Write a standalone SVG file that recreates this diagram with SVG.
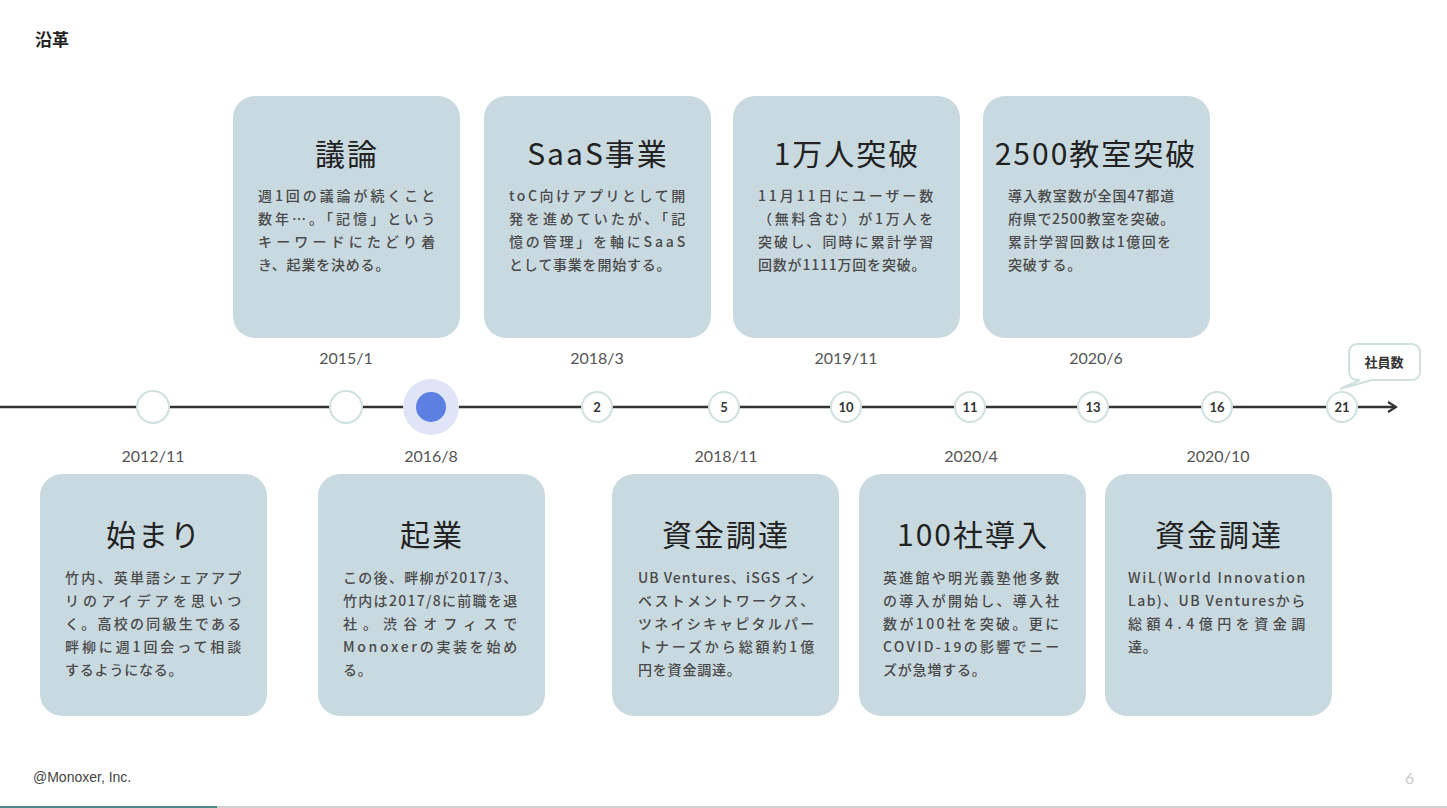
<svg xmlns="http://www.w3.org/2000/svg" width="1447" height="808" viewBox="0 0 1447 808">
<style>
.card{fill:#c9d9e0;}
.title{font-family:"Noto Sans CJK JP","Noto Sans",sans-serif;font-size:30px;fill:#222;text-anchor:middle;letter-spacing:2px;font-weight:400;}
.body{font-family:"Noto Sans CJK JP","Noto Sans",sans-serif;font-size:14px;fill:#4a4a4a;letter-spacing:0.8px;font-weight:500;}
.date{font-family:"Lato","Noto Sans",sans-serif;font-size:16px;fill:#555;text-anchor:middle;}
.dot{fill:#fff;stroke:#cfe0e0;stroke-width:2;}
.num{font-family:"Lato","Noto Sans",sans-serif;font-size:13px;fill:#333;text-anchor:middle;font-weight:700;}
</style>
<defs>
<marker id="arrow" viewBox="0 0 12 12" refX="10" refY="6" markerWidth="12" markerHeight="12" markerUnits="userSpaceOnUse" orient="auto">
<path d="M2,1 L10,6 L2,11" fill="none" stroke="#333" stroke-width="2.2"/>
</marker>
</defs>
<rect width="1447" height="808" fill="#fff"/>
<text x="35" y="46" font-family="Noto Sans CJK JP, sans-serif" font-size="17" font-weight="700" fill="#222">沿革</text>

<g id="connectors">
<line x1="0" y1="407" x2="1396" y2="407" stroke="#333" stroke-width="2.5" marker-end="url(#arrow)"/>
</g>

<g id="markers">
<circle class="dot" cx="153" cy="407" r="16"/>
<circle class="dot" cx="346" cy="407" r="16"/>
<circle cx="431" cy="407" r="28" fill="#dfe5f6"/>
<circle cx="431" cy="407" r="15" fill="#5b80e2"/>
<circle class="dot" cx="597" cy="407" r="15"/><text class="num" x="597" y="412">2</text>
<circle class="dot" cx="724" cy="407" r="15"/><text class="num" x="724" y="412">5</text>
<circle class="dot" cx="846" cy="407" r="15"/><text class="num" x="846" y="412">10</text>
<circle class="dot" cx="970" cy="407" r="15"/><text class="num" x="970" y="412">11</text>
<circle class="dot" cx="1093" cy="407" r="15"/><text class="num" x="1093" y="412">13</text>
<circle class="dot" cx="1217" cy="407" r="15"/><text class="num" x="1217" y="412">16</text>
<circle class="dot" cx="1342" cy="407" r="15"/><text class="num" x="1342" y="412">21</text>
</g>

<g id="bubble">
<path d="M1357,344 H1412 A8,8 0 0 1 1420,352 V372 A8,8 0 0 1 1412,380 H1372 L1340,389 L1360,380 H1357 A8,8 0 0 1 1349,372 V352 A8,8 0 0 1 1357,344 Z" fill="#fff" stroke="#cfe0e0" stroke-width="2"/>
<text x="1384" y="367" font-family="Noto Sans CJK JP, sans-serif" font-size="13" font-weight="700" fill="#333" text-anchor="middle">社員数</text>
</g>

<g id="dates">
<text class="date" x="346" y="364">2015/1</text>
<text class="date" x="597" y="364">2018/3</text>
<text class="date" x="846" y="364">2019/11</text>
<text class="date" x="1096" y="364">2020/6</text>
<text class="date" x="153" y="462">2012/11</text>
<text class="date" x="431" y="462">2016/8</text>
<text class="date" x="726" y="462">2018/11</text>
<text class="date" x="971" y="462">2020/4</text>
<text class="date" x="1218" y="462">2020/10</text>
</g>

<g id="card-2015-1">
<rect class="card" x="233" y="96" width="227" height="242" rx="22"/>
<text class="title" x="347" y="165">議論</text>
<text class="body" x="258" y="201" textLength="178" lengthAdjust="spacing">週1回の議論が続くこと</text>
<text class="body" x="258" y="224" textLength="178" lengthAdjust="spacing">数年…。「記憶」という</text>
<text class="body" x="258" y="247" textLength="178" lengthAdjust="spacing">キーワードにたどり着</text>
<text class="body" x="258" y="270">き、起業を決める。</text>
</g>

<g id="card-2018-3">
<rect class="card" x="484" y="96" width="227" height="242" rx="22"/>
<text class="title" x="598" y="165">SaaS事業</text>
<text class="body" x="509" y="201" textLength="177" lengthAdjust="spacing">toC向けアプリとして開</text>
<text class="body" x="509" y="224" textLength="177" lengthAdjust="spacing">発を進めていたが、「記</text>
<text class="body" x="509" y="247" textLength="177" lengthAdjust="spacing">憶の管理」を軸にSaaS</text>
<text class="body" x="509" y="270">として事業を開始する。</text>
</g>

<g id="card-2019-11">
<rect class="card" x="733" y="96" width="227" height="242" rx="22"/>
<text class="title" x="847" y="165">1万人突破</text>
<text class="body" x="758" y="201" textLength="176" lengthAdjust="spacing">11月11日にユーザー数</text>
<text class="body" x="758" y="224" textLength="176" lengthAdjust="spacing">（無料含む）が1万人を</text>
<text class="body" x="758" y="247" textLength="176" lengthAdjust="spacing">突破し、同時に累計学習</text>
<text class="body" x="758" y="270">回数が1111万回を突破。</text>
</g>

<g id="card-2020-6">
<rect class="card" x="983" y="96" width="227" height="242" rx="22"/>
<text class="title" x="1096" y="165">2500教室突破</text>
<text class="body" x="1008" y="201" textLength="167" lengthAdjust="spacing">導入教室数が全国47都道</text>
<text class="body" x="1008" y="224" textLength="167" lengthAdjust="spacing">府県で2500教室を突破。</text>
<text class="body" x="1008" y="247" textLength="164" lengthAdjust="spacing">累計学習回数は1億回を</text>
<text class="body" x="1008" y="270">突破する。</text>
</g>

<g id="card-2012-11">
<rect class="card" x="40" y="474" width="227" height="242" rx="22"/>
<text class="title" x="154" y="546">始まり</text>
<text class="body" x="65" y="583" textLength="177" lengthAdjust="spacing">竹内、英単語シェアアプ</text>
<text class="body" x="65" y="606" textLength="177" lengthAdjust="spacing">リのアイデアを思いつ</text>
<text class="body" x="65" y="629" textLength="177" lengthAdjust="spacing">く。高校の同級生である</text>
<text class="body" x="65" y="652" textLength="177" lengthAdjust="spacing">畔柳に週1回会って相談</text>
<text class="body" x="65" y="675">するようになる。</text>
</g>

<g id="card-2016-8">
<rect class="card" x="318" y="474" width="227" height="242" rx="22"/>
<text class="title" x="432" y="546">起業</text>
<text class="body" x="343" y="583" textLength="175" lengthAdjust="spacing">この後、畔柳が2017/3、</text>
<text class="body" x="343" y="606" textLength="175" lengthAdjust="spacing">竹内は2017/8に前職を退</text>
<text class="body" x="343" y="629" textLength="175" lengthAdjust="spacing">社。渋谷オフィスで</text>
<text class="body" x="343" y="652" textLength="175" lengthAdjust="spacing">Monoxerの実装を始め</text>
<text class="body" x="343" y="675">る。</text>
</g>

<g id="card-2018-11">
<rect class="card" x="612" y="474" width="227" height="242" rx="22"/>
<text class="title" x="726" y="546">資金調達</text>
<text class="body" x="638" y="583" textLength="177" lengthAdjust="spacing">UB Ventures、iSGS イン</text>
<text class="body" x="638" y="606" textLength="177" lengthAdjust="spacing">ベストメントワークス、</text>
<text class="body" x="638" y="629" textLength="177" lengthAdjust="spacing">ツネイシキャピタルパー</text>
<text class="body" x="638" y="652" textLength="177" lengthAdjust="spacing">トナーズから総額約1億</text>
<text class="body" x="638" y="675">円を資金調達。</text>
</g>

<g id="card-2020-4">
<rect class="card" x="859" y="474" width="227" height="242" rx="22"/>
<text class="title" x="973" y="546">100社導入</text>
<text class="body" x="883" y="583" textLength="177" lengthAdjust="spacing">英進館や明光義塾他多数</text>
<text class="body" x="883" y="606" textLength="177" lengthAdjust="spacing">の導入が開始し、導入社</text>
<text class="body" x="883" y="629" textLength="177" lengthAdjust="spacing">数が100社を突破。更に</text>
<text class="body" x="883" y="652" textLength="177" lengthAdjust="spacing">COVID-19の影響でニー</text>
<text class="body" x="883" y="675">ズが急増する。</text>
</g>

<g id="card-2020-10">
<rect class="card" x="1105" y="474" width="227" height="242" rx="22"/>
<text class="title" x="1219" y="546">資金調達</text>
<text class="body" x="1128" y="583" textLength="178" lengthAdjust="spacing">WiL(World  Innovation</text>
<text class="body" x="1128" y="606" textLength="178" lengthAdjust="spacing">Lab)、UB  Venturesから</text>
<text class="body" x="1128" y="629" textLength="178" lengthAdjust="spacing">総額4.4億円を資金調</text>
<text class="body" x="1128" y="652">達。</text>
</g>

<g id="footer">
<text x="33" y="782" font-family="Liberation Sans, Arial, sans-serif" font-size="14" fill="#444">@Monoxer, Inc.</text>
<text x="1405" y="784" font-family="Lato, sans-serif" font-size="16" fill="#ccc">6</text>
<rect x="0" y="806" width="1447" height="2" fill="#d0d0d0"/>
<rect x="0" y="806" width="217" height="2" fill="#4a8a88"/>
</g>
</svg>
